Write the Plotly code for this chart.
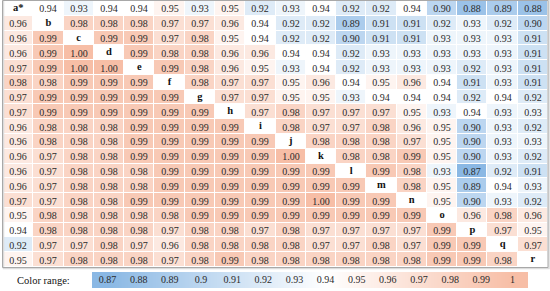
import plotly.graph_objects as go

labels = ["a*", "b", "c", "d", "e", "f", "g", "h", "i",
          "j", "k", "l", "m", "n", "o", "p", "q", "r"]

N = None
values = [
    [N, 0.94, 0.93, 0.94, 0.94, 0.95, 0.93, 0.95, 0.92, 0.93, 0.94, 0.92, 0.92, 0.94, 0.90, 0.88, 0.89, 0.88],
    [0.96, N, 0.98, 0.98, 0.98, 0.97, 0.97, 0.96, 0.94, 0.92, 0.92, 0.89, 0.91, 0.91, 0.92, 0.93, 0.92, 0.90],
    [0.96, 0.99, N, 0.99, 0.99, 0.97, 0.98, 0.95, 0.94, 0.92, 0.92, 0.90, 0.91, 0.91, 0.93, 0.93, 0.93, 0.91],
    [0.96, 0.99, 1.00, N, 0.99, 0.98, 0.98, 0.96, 0.96, 0.94, 0.94, 0.92, 0.93, 0.93, 0.93, 0.93, 0.93, 0.91],
    [0.97, 0.99, 1.00, 1.00, N, 0.99, 0.98, 0.96, 0.95, 0.93, 0.94, 0.92, 0.93, 0.93, 0.93, 0.92, 0.93, 0.91],
    [0.98, 0.98, 0.99, 0.99, 0.99, N, 0.98, 0.97, 0.97, 0.95, 0.96, 0.94, 0.95, 0.96, 0.94, 0.91, 0.93, 0.91],
    [0.97, 0.99, 0.99, 0.99, 0.99, 0.99, N, 0.97, 0.97, 0.95, 0.95, 0.93, 0.94, 0.94, 0.94, 0.92, 0.94, 0.92],
    [0.97, 0.99, 0.99, 0.99, 0.99, 0.99, 0.99, N, 0.97, 0.98, 0.97, 0.97, 0.97, 0.95, 0.93, 0.94, 0.93, 0.93],
    [0.96, 0.98, 0.98, 0.98, 0.99, 0.99, 0.99, 0.99, N, 0.98, 0.97, 0.97, 0.98, 0.96, 0.95, 0.90, 0.93, 0.92],
    [0.96, 0.98, 0.98, 0.98, 0.99, 0.99, 0.99, 0.99, 0.99, N, 0.98, 0.98, 0.98, 0.97, 0.95, 0.90, 0.93, 0.93],
    [0.96, 0.97, 0.98, 0.98, 0.99, 0.99, 0.99, 0.99, 0.99, 1.00, N, 0.98, 0.98, 0.99, 0.95, 0.90, 0.93, 0.92],
    [0.96, 0.97, 0.98, 0.98, 0.98, 0.99, 0.99, 0.99, 0.99, 0.99, 0.99, N, 0.99, 0.98, 0.93, 0.87, 0.92, 0.91],
    [0.96, 0.97, 0.98, 0.98, 0.98, 0.99, 0.99, 0.99, 0.99, 0.99, 0.99, 0.99, N, 0.98, 0.95, 0.89, 0.94, 0.93],
    [0.97, 0.97, 0.98, 0.98, 0.99, 0.99, 0.99, 0.99, 0.99, 0.99, 1.00, 0.99, 0.99, N, 0.95, 0.90, 0.93, 0.92],
    [0.95, 0.98, 0.98, 0.98, 0.98, 0.98, 0.99, 0.99, 0.99, 0.99, 0.99, 0.99, 0.99, 0.99, N, 0.96, 0.98, 0.96],
    [0.94, 0.98, 0.98, 0.98, 0.98, 0.97, 0.98, 0.98, 0.97, 0.98, 0.97, 0.97, 0.97, 0.97, 0.99, N, 0.97, 0.95],
    [0.92, 0.97, 0.97, 0.98, 0.97, 0.96, 0.98, 0.98, 0.98, 0.98, 0.97, 0.97, 0.98, 0.97, 0.99, 0.99, N, 0.97],
    [0.95, 0.97, 0.98, 0.98, 0.98, 0.97, 0.98, 0.99, 0.98, 0.98, 0.98, 0.98, 0.98, 0.98, 0.99, 0.99, 0.98, N],
]

scale_ticks = [0.87, 0.88, 0.89, 0.90, 0.91, 0.92, 0.93,
               0.94, 0.95, 0.96, 0.97, 0.98, 0.99, 1.00]

W, H = 550, 291
ZMIN, ZMID, ZMAX = 0.87, 0.94, 1.00
colorscale = [
    [0.0, "rgb(138,184,228)"],
    [(ZMID - ZMIN) / (ZMAX - ZMIN), "rgb(255,255,255)"],
    [1.0, "rgb(247,190,166)"],
]
FONT = "Liberation Serif"
TXT = "#2b2b2b"

n = len(labels)
idx = list(range(n))
tidx = list(range(len(scale_ticks)))

fig = go.Figure()
fig.add_trace(go.Heatmap(
    z=values, x=idx, y=idx, colorscale=colorscale, zmin=ZMIN, zmax=ZMAX,
    showscale=False, xgap=1, ygap=1, texttemplate="%{z:.2f}",
    textfont=dict(family=FONT, size=10, color=TXT), hoverinfo="skip"))
fig.add_trace(go.Scatter(
    x=idx, y=idx, mode="text", text=[f"<b>{l}</b>" for l in labels],
    textfont=dict(family=FONT, size=10.5, color="#111"), hoverinfo="skip",
    showlegend=False))

# colour range bar
fig.add_trace(go.Heatmap(
    z=[scale_ticks], x=tidx, y=[0], xaxis="x2", yaxis="y2",
    colorscale=colorscale, zmin=ZMIN, zmax=ZMAX, zsmooth="best",
    showscale=False, hoverinfo="skip"))
fig.add_trace(go.Scatter(
    x=tidx, y=[0] * len(tidx), xaxis="x2", yaxis="y2", mode="text",
    text=[f"{v:g}" for v in scale_ticks],
    textfont=dict(family=FONT, size=10, color=TXT), hoverinfo="skip",
    showlegend=False))

def px(x):
    return x / W

def py(y):
    return 1 - y / H

fig.update_layout(
    width=W, height=H, margin=dict(l=0, r=0, t=0, b=0),
    paper_bgcolor="white", plot_bgcolor="white", showlegend=False,
    xaxis=dict(domain=[px(3), px(548)], range=[-0.5, n - 0.5], visible=False),
    yaxis=dict(domain=[py(267), py(1)], range=[n - 0.5, -0.5], visible=False),
    xaxis2=dict(domain=[px(92), px(528)], range=[-0.5, len(tidx) - 0.5],
                visible=False, anchor="y2"),
    yaxis2=dict(domain=[py(288), py(272)], range=[-0.5, 0.5], visible=False,
                anchor="x2"),
    annotations=[dict(text="Color range:", x=px(15), y=py(280), xref="paper",
                      yref="paper", xanchor="left", yanchor="middle",
                      showarrow=False,
                      font=dict(family=FONT, size=10.5, color="#111"))],
    shapes=[
        dict(type="rect", xref="paper", yref="paper", x0=px(3.5), x1=px(549),
             y0=py(268.5), y1=py(0), line=dict(color="#dcdcdc", width=1.5)),
        dict(type="rect", xref="paper", yref="paper", x0=px(2.5), x1=px(548),
             y0=py(267.5), y1=py(0.5), line=dict(color="#a8a8a8", width=1)),
    ],
)

fig.write_html("out.html", config={"displayModeBar": False},
               post_script="document.body.style.margin='0px';"
                           "document.body.style.overflow='hidden';")
